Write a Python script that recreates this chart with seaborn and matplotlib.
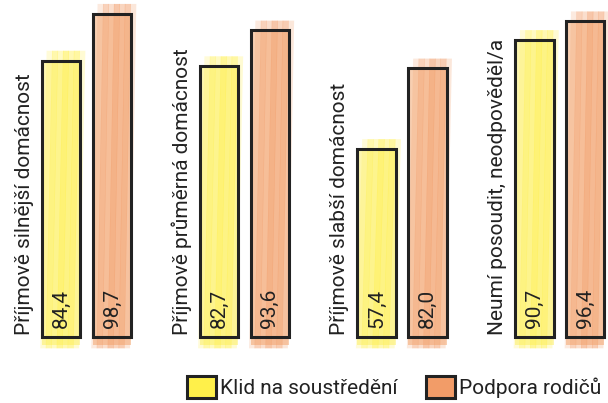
import matplotlib
matplotlib.use("Agg")
import matplotlib.pyplot as plt
import matplotlib.transforms as mtransforms
from matplotlib.patches import Patch
import pandas as pd
import seaborn as sns

categories = ["Příjmově silnější domácnost", "Příjmově průměrná domácnost",
              "Příjmově slabší domácnost", "Neumí posoudit, neodpověděl/a"]
series = ["Klid na soustředění", "Podpora rodičů"]
klid = [84.4, 82.7, 57.4, 90.7]
podpora = [98.7, 93.6, 82.0, 96.4]

colors = {"Klid na soustředění": "#fff04a", "Podpora rodičů": "#f29c68"}
light = {"Klid na soustředění": "#fdf6a6", "Podpora rodičů": "#f8caa9"}
edge = "#222222"

df = pd.DataFrame({
    "kategorie": categories * 2,
    "rada": [series[0]] * len(klid) + [series[1]] * len(podpora),
    "hodnota": klid + podpora,
})

sns.set_theme(style="white")
plt.rcParams["font.family"] = ["Roboto", "DejaVu Sans"]
fs = 15

fig = plt.figure(figsize=(6.08, 4.03), dpi=100)
ax = fig.add_axes([0, 0, 1, 1])
sns.barplot(data=df, x="kategorie", y="hodnota", hue="rada", palette=colors,
            width=0.646, gap=0.25, saturation=1, edgecolor=edge, linewidth=2.2,
            legend=False, ax=ax)

bars = sorted(ax.patches, key=lambda p: p.get_x())
ax.set_xlim(-0.548, 3.305)
ax.set_ylim(-20.2, 102.9)
ax.axis("off")

# rough, hand-drawn looking fill under every bar outline
stroke_alpha = [0.35, 0.75, 0.55, 0.95, 0.7, 0.85, 0.4]
for k, p in enumerate(bars):
    x, w, h = p.get_x(), p.get_width(), p.get_height()
    name = series[k % 2]
    p.set_facecolor("none")
    p.set_zorder(4)
    ax.fill([x, x + w, x + w, x], [-2.5, -2.5, h, h], color=light[name],
            alpha=0.9, lw=0, zorder=1)
    n = len(stroke_alpha)
    sw = w / n
    for i, a in enumerate(stroke_alpha):
        x0 = x + i * sw
        ax.fill([x0 - 0.01, x0 + sw * 1.1 - 0.01, x0 + sw * 1.1 + 0.03, x0 + 0.03],
                [-3.5, -3.5, h + 3.0, h + 3.0],
                color=colors[name], alpha=a * 0.6, lw=0, zorder=2)

# values inside bars
val_tr = mtransforms.offset_copy(ax.transData, fig=fig, y=9, units="dots")
for p in bars:
    txt = f"{p.get_height():.1f}".replace(".", ",")
    ax.text(p.get_x() + p.get_width() / 2, 0, txt, rotation=90, ha="center",
            va="bottom", fontsize=fs, color=edge, transform=val_tr, zorder=5)

# category labels to the left of each group
lab_tr = mtransforms.offset_copy(ax.transData, fig=fig, x=-12, y=2, units="dots")
for i, cat in enumerate(categories):
    p = bars[2 * i]
    ax.text(p.get_x(), 0, cat, rotation=90, rotation_mode="anchor", ha="left",
            va="baseline", fontsize=fs, color=edge, transform=lab_tr, zorder=5)

handles = [Patch(facecolor=colors[s], edgecolor=edge, linewidth=2.2, label=s)
           for s in series]
fig.legend(handles=handles, loc="upper left", bbox_to_anchor=(187 / 608, 1 - 376 / 403),
           ncol=2, frameon=False, borderpad=0, borderaxespad=0,
           handlelength=1.4, handleheight=1.25, handletextpad=0.2,
           columnspacing=1.35, fontsize=fs, labelcolor=edge)

fig.savefig("out.png", dpi=100)
